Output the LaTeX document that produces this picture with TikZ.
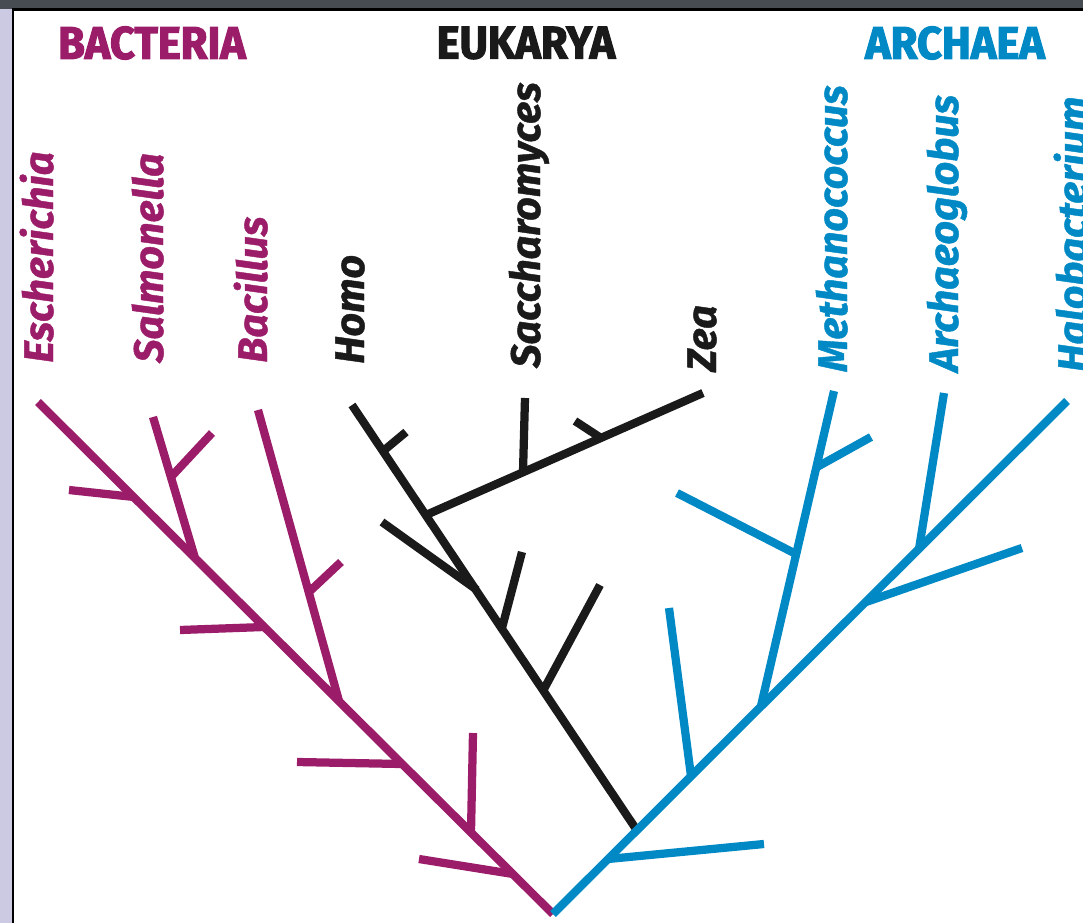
\documentclass[tikz,border=0pt]{standalone}
\usepackage{fontspec}
\newfontfamily\titlefont[FakeStretch=0.95, FakeBold=2.5]{Fira Sans}
\newfontfamily\taxonfont[FakeBold=1]{Fira Sans}

\definecolor{bactcol}{RGB}{155,28,104}
\definecolor{eukcol}{RGB}{26,26,26}
\definecolor{archcol}{RGB}{0,137,196}
\definecolor{framecol}{RGB}{70,76,82}
\definecolor{stripcol}{RGB}{204,202,226}

\begin{document}
\begin{tikzpicture}[
  x=0.02cm, y=-0.02cm,
  limb/.style={line width=0.165cm, line cap=butt},
  headtitle/.style={inner sep=0pt, font=\titlefont\bfseries\fontsize{26pt}{26pt}\selectfont},
  taxon/.style={rotate=90, anchor=base west, inner sep=0pt, font=\taxonfont\bfseries\itshape\fontsize{23.5pt}{23.5pt}\selectfont}
]

  \useasboundingbox (0,0) rectangle (1083,923);
  \clip (0,0) rectangle (1083,923);

  % frame of the slide
  \fill[framecol] (0,0) rectangle (1083,9);
  \fill[stripcol] (0,9) rectangle (13,923);
  \draw[line width=0.06cm, black] (13,923) -- (13,9) -- (1083,9);

  % domain titles
  \node (bact) [headtitle, text=bactcol] at (152,43) {BACTERIA};
  \node (euk)  [headtitle, text=eukcol]  at (526,43) {EUKARYA};
  \node (arch) [headtitle, text=archcol] at (955,43) {ARCHAEA};

  % genus labels
  \node (eschlab)  [taxon, text=bactcol] at (53,363)   {Escherichia};
  \node (salmlab)  [taxon, text=bactcol] at (163,363)  {Salmonella};
  \node (bacilab)  [taxon, text=bactcol] at (267,363)  {Bacillus};
  \node (homolab)  [taxon, text=eukcol]  at (364,364)  {Homo};
  \node (sacclab)  [taxon, text=eukcol]  at (540,368)  {Saccharomyces};
  \node (zealab)   [taxon, text=eukcol]  at (716,372)  {Zea};
  \node (methlab)  [taxon, text=archcol] at (847,372)  {Methanococcus};
  \node (archlab)  [taxon, text=archcol] at (958,372)  {Archaeoglobus};
  \node (halolab)  [taxon, text=archcol] at (1087,372) {Halobacterium};

  % Bacteria
  \coordinate (root) at (553,914);
  \coordinate (esch) at (38,402);
  \coordinate (bj1) at (134,497);
  \coordinate (bj2) at (195,558);
  \coordinate (bj3) at (264,627);
  \coordinate (bj4) at (339,701);
  \coordinate (bj5) at (402,764);
  \coordinate (bj6) at (471,832);
  \coordinate (bj7) at (513,874);
  \coordinate (salm) at (153,417);
  \coordinate (salmj) at (171,477);
  \coordinate (baci) at (258,410);
  \coordinate (bacij) at (309,592);
  \draw[limb, bactcol] (root) -- (esch);
  \draw[limb, bactcol] (bj1) -- (69,490);
  \draw[limb, bactcol] (bj2) -- (salm);
  \draw[limb, bactcol] (salmj) -- (212,433);
  \draw[limb, bactcol] (bj3) -- (180,630);
  \draw[limb, bactcol] (bj4) -- (baci);
  \draw[limb, bactcol] (bacij) -- (341,562);
  \draw[limb, bactcol] (bj5) -- (297,762);
  \draw[limb, bactcol] (bj6) -- (473,733);
  \draw[limb, bactcol] (bj7) -- (419,859);

  % Eukarya
  \coordinate (homo) at (352,405);
  \coordinate (ebase) at (638,832);
  \coordinate (ej1) at (382,452);
  \coordinate (ej2) at (426,515);
  \coordinate (ej3) at (477,590);
  \coordinate (ej4) at (502,628);
  \coordinate (ej5) at (544,689);
  \coordinate (zea) at (703,393);
  \coordinate (saccj) at (523,472);
  \coordinate (zeaj) at (601,438);
  \draw[limb, eukcol] (ebase) -- (homo);
  \draw[limb, eukcol] (ej1) -- (406,432);
  \draw[limb, eukcol] (ej2) -- (zea);
  \draw[limb, eukcol] (saccj) -- (525,398);
  \draw[limb, eukcol] (zeaj) -- (575,421);
  \draw[limb, eukcol] (ej3) -- (382,522);
  \draw[limb, eukcol] (ej4) -- (522,552);
  \draw[limb, eukcol] (ej5) -- (600,585);

  % Archaea
  \coordinate (halo) at (1067,401);
  \coordinate (aj1) at (608,859);
  \coordinate (aj2) at (691,776);
  \coordinate (aj3) at (761,706);
  \coordinate (aj4) at (866,602);
  \coordinate (aj5) at (919,549);
  \coordinate (meth) at (834,391);
  \coordinate (methj1) at (796,554);
  \coordinate (methj2) at (817,467);
  \draw[limb, archcol] (root) -- (halo);
  \draw[limb, archcol] (aj1) -- (764,844);
  \draw[limb, archcol] (aj2) -- (669,608);
  \draw[limb, archcol] (aj3) -- (meth);
  \draw[limb, archcol] (methj1) -- (677,493);
  \draw[limb, archcol] (methj2) -- (871,437);
  \draw[limb, archcol] (aj4) -- (1022,548);
  \draw[limb, archcol] (aj5) -- (944,393);

\end{tikzpicture}
\end{document}
